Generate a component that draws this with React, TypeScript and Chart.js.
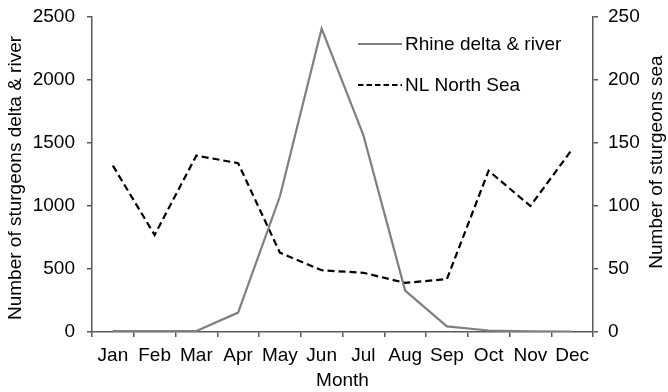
import React, { useEffect, useRef } from "react";
import { Chart, registerables } from "chart.js";

Chart.register(...registerables);

const months = ["Jan", "Feb", "Mar", "Apr", "May", "Jun", "Jul", "Aug", "Sep", "Oct", "Nov", "Dec"];
const rhineDeltaRiver = [8, 8, 8, 154, 1075, 2407, 1562, 329, 45, 12, 5, 3];
const nlNorthSea = [132, 77, 140, 134, 63, 49, 47, 39, 42, 128, 100, 145];
const leftTicks = [0, 500, 1000, 1500, 2000, 2500];
const rightTicks = [0, 50, 100, 150, 200, 250];

const FONT = "'Liberation Sans', Arial, sans-serif";
const FONT_SIZE = 19;
const AXIS_COLOR = "#595959";
const RHINE_COLOR = "#7f7f7f";

// Draws the inset legend and the axis titles (the right title reads bottom-to-top).
const annotations = {
  id: "annotations",
  afterDraw(chart: any) {
    const ctx = chart.ctx as CanvasRenderingContext2D;
    const area = chart.chartArea;
    ctx.save();
    ctx.font = `${FONT_SIZE}px ${FONT}`;
    ctx.fillStyle = "#000";
    ctx.textBaseline = "middle";
    ctx.textAlign = "left";

    const lx0 = 358;
    const lx1 = 402;
    const rows = [
      { label: "Rhine delta & river", y: 44, color: RHINE_COLOR, dash: [] as number[] },
      { label: "NL North Sea", y: 85, color: "#000", dash: [5.5, 3] },
    ];
    rows.forEach((r) => {
      ctx.beginPath();
      ctx.setLineDash(r.dash);
      ctx.strokeStyle = r.color;
      ctx.lineWidth = 2;
      ctx.moveTo(lx0, r.y);
      ctx.lineTo(lx1, r.y);
      ctx.stroke();
      ctx.setLineDash([]);
      ctx.fillText(r.label, 405, r.y + 1);
    });

    ctx.textAlign = "center";
    ctx.fillText("Month", (area.left + area.right) / 2, 381);

    ctx.save();
    ctx.translate(16, 178);
    ctx.rotate(-Math.PI / 2);
    ctx.fillText("Number of sturgeons delta & river", 0, 0);
    ctx.restore();

    ctx.save();
    ctx.translate(657, 162);
    ctx.rotate(-Math.PI / 2);
    ctx.fillText("Number of sturgeons sea", 0, 0);
    ctx.restore();

    ctx.restore();
  },
};

export default function App() {
  const canvasRef = useRef<HTMLCanvasElement | null>(null);

  useEffect(() => {
    if (!canvasRef.current) return;
    const tickFont = { family: FONT, size: FONT_SIZE };
    const plain = (v: any) => String(v);
    const fitVertical = (width: number) => (s: any) => {
      s.width = width;
      s.paddingTop = 0;
      s.paddingBottom = 0;
    };
    const chart = new Chart(canvasRef.current, {
      type: "line",
      data: {
        labels: months,
        datasets: [
          {
            label: "Rhine delta & river",
            data: rhineDeltaRiver,
            yAxisID: "y",
            borderColor: RHINE_COLOR,
            borderWidth: 2.2,
            pointRadius: 0,
            tension: 0,
            fill: false,
          },
          {
            label: "NL North Sea",
            data: nlNorthSea,
            yAxisID: "y1",
            borderColor: "#000",
            borderWidth: 2.2,
            borderDash: [7, 4],
            pointRadius: 0,
            tension: 0,
            fill: false,
          },
        ],
      },
      options: {
        animation: false,
        responsive: false,
        maintainAspectRatio: false,
        layout: { padding: { top: 17, left: 0, right: 0, bottom: 0 } },
        plugins: { legend: { display: false }, tooltip: { enabled: false } },
        scales: {
          x: {
            type: "category",
            offset: true,
            grid: {
              offset: true,
              drawOnChartArea: false,
              drawTicks: true,
              tickLength: 5,
              color: AXIS_COLOR,
              lineWidth: 1.5,
            },
            border: { color: AXIS_COLOR, width: 1.5 },
            ticks: { font: tickFont, color: "#000", padding: 7, maxRotation: 0, autoSkip: false },
            afterFit: (s: any) => {
              s.height = 60;
            },
          },
          y: {
            position: "left",
            min: 0,
            max: 2500,
            afterBuildTicks: (s: any) => {
              s.ticks = leftTicks.map((v) => ({ value: v }));
            },
            grid: {
              drawOnChartArea: false,
              drawTicks: true,
              tickLength: 5,
              color: AXIS_COLOR,
              lineWidth: 1.5,
            },
            border: { color: AXIS_COLOR, width: 1.5 },
            ticks: { font: tickFont, color: "#000", padding: 12, callback: plain },
            afterFit: fitVertical(92),
          },
          y1: {
            position: "right",
            min: 0,
            max: 250,
            afterBuildTicks: (s: any) => {
              s.ticks = rightTicks.map((v) => ({ value: v }));
            },
            grid: {
              drawOnChartArea: false,
              drawTicks: true,
              tickLength: 5,
              color: AXIS_COLOR,
              lineWidth: 1.5,
            },
            border: { color: AXIS_COLOR, width: 1.5 },
            ticks: { font: tickFont, color: "#000", padding: 10, callback: plain },
            afterFit: fitVertical(75),
          },
        },
      },
      plugins: [annotations],
    });
    return () => chart.destroy();
  }, []);

  return (
    <div style={{ position: "fixed", left: 0, top: 0, width: 668, height: 392, background: "#fff" }}>
      <canvas ref={canvasRef} width={668} height={392} style={{ display: "block" }} />
    </div>
  );
}
